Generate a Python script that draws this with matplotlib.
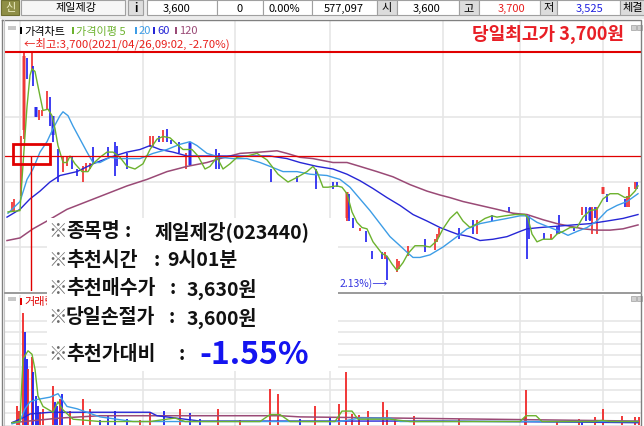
import matplotlib
matplotlib.use("Agg")
import matplotlib.pyplot as plt
from matplotlib.patches import Rectangle

plt.rcParams['font.family'] = ['Noto Sans CJK KR', 'DejaVu Sans']

W, H = 644, 427

# ---- quote bar ----
stock_name = "제일제강"
stock_code = "023440"
last_price = "3,600"
change = "0"
change_rate = "0.00%"
volume_total = "577,097"
open_price = "3,600"
high_price = "3,700"
low_price = "3,525"

# ---- signal box ----
info_labels = ["종목명", "추천시간", "추천매수가", "당일손절가", "추천가대비"]
info_values = [f"{stock_name}({stock_code})", "9시01분", "3,630원", "3,600원", "-1.55%"]
high_label = "당일최고가 3,700원"
high_note = "←최고:3,700(2021/04/26,09:02, -2.70%)"
low_note = "2.13%)⟶"   # only the part not hidden by the box

# ---- price panel (bar slot, price) ----
day_high = 3700
ref_line = 3620
buy_t = 23
price_grid = [3550, 3600, 3650]
time_grid_t = [12, 135, 227, 322, 435, 512, 595]

candle_t = [4, 6, 13, 16, 19, 24, 25, 28, 31, 34, 39, 42, 45, 50, 55, 59, 64, 69, 75, 78,
            82, 85, 100, 107, 109, 119, 142, 145, 151, 155, 159, 163, 171, 178, 182, 208, 211,
            263, 289, 308, 325, 329, 339, 341, 345, 352, 358, 364, 374, 377, 379, 389, 391,
            400, 417, 427, 429, 431, 451, 465, 469, 484, 501, 519, 521, 536, 543, 549, 551,
            566, 574, 578, 582, 584, 587, 589, 595, 599, 617, 619, 621, 627, 629]
candle_hi = [3585, 3587, 3635, 3700, 3695, 3700, 3689, 3658, 3655, 3655, 3670, 3665, 3651, 3625,
             3620, 3620, 3620, 3610, 3612, 3615, 3615, 3627, 3627, 3631, 3628, 3622, 3635, 3635,
             3635, 3640, 3641, 3632, 3631, 3622, 3631, 3625, 3622, 3610, 3605, 3610, 3600, 3600,
             3592, 3591, 3572, 3565, 3562, 3547, 3546, 3546, 3543, 3541, 3539, 3551, 3556, 3556,
             3560, 3565, 3565, 3571, 3571, 3575, 3581, 3575, 3574, 3561, 3560, 3566, 3575, 3565,
             3581, 3581, 3581, 3581, 3581, 3581, 3596, 3591, 3587, 3589, 3596, 3600, 3600]
candle_lo = [3577, 3578, 3589, 3633, 3679, 3685, 3674, 3650, 3648, 3651, 3655, 3643, 3631, 3600,
             3608, 3612, 3610, 3605, 3600, 3608, 3610, 3615, 3620, 3605, 3612, 3610, 3627, 3628,
             3631, 3631, 3631, 3629, 3622, 3610, 3612, 3610, 3610, 3600, 3600, 3595, 3595, 3596,
             3570, 3570, 3565, 3562, 3554, 3541, 3541, 3541, 3525, 3531, 3533, 3543, 3546, 3548,
             3554, 3558, 3556, 3560, 3560, 3570, 3577, 3541, 3556, 3556, 3556, 3560, 3560, 3562,
             3575, 3570, 3570, 3560, 3572, 3560, 3591, 3585, 3581, 3581, 3581, 3595, 3595]
candle_up = [1, 1, 1, 1, 0, 1, 0, 0, 1, 1, 1, 0, 0, 0, 1, 1, 0, 0, 1, 1, 1, 0, 0, 0, 0, 0, 1, 1,
             0, 1, 0, 0, 0, 1, 0, 0, 0, 0, 0, 0, 0, 0, 1, 0, 0, 1, 0, 0, 0, 1, 0, 1, 1, 1, 0, 1,
             1, 1, 0, 0, 1, 0, 0, 0, 0, 0, 1, 0, 0, 0, 1, 0, 0, 1, 0, 1, 1, 0, 0, 1, 1, 1, 0]

body_t = [16, 28, 45, 182, 339, 582, 595]
body_top = [3697, 3658, 3651, 3630, 3592, 3580, 3596]
body_bot = [3640, 3650, 3636, 3613, 3572, 3571, 3591]
body_up = [1, 0, 0, 0, 1, 0, 1]

ma5_t = [0, 12, 14, 19, 22, 24, 27, 32, 35, 40, 44, 47, 50, 55, 59, 62, 67, 74, 80, 85, 92, 99,
         105, 112, 119, 127, 135, 142, 149, 155, 162, 169, 175, 184, 190, 197, 202, 209, 215,
         222, 229, 239, 249, 259, 270, 280, 290, 299, 305, 309, 315, 320, 329, 334, 339, 344,
         349, 354, 359, 365, 374, 379, 384, 389, 395, 400, 407, 415, 422, 429, 435, 442, 449,
         455, 462, 469, 477, 484, 489, 497, 507, 517, 520, 524, 529, 535, 544, 549, 555, 562,
         569, 575, 582, 589, 595, 602, 610, 617, 622, 627, 630]
ma5_p = [3577, 3578, 3602, 3658, 3682, 3687, 3685, 3666, 3655, 3656, 3651, 3641, 3628, 3615,
         3615, 3620, 3614, 3608, 3608, 3614, 3619, 3623, 3623, 3619, 3612, 3610, 3614, 3625,
         3633, 3635, 3634, 3629, 3625, 3625, 3620, 3610, 3612, 3619, 3610, 3614, 3619, 3620,
         3622, 3617, 3606, 3600, 3604, 3608, 3612, 3608, 3596, 3596, 3597, 3596, 3591, 3577,
         3569, 3565, 3564, 3554, 3545, 3543, 3537, 3532, 3538, 3545, 3551, 3551, 3550, 3555,
         3564, 3572, 3577, 3570, 3565, 3568, 3572, 3574, 3573, 3574, 3575, 3575, 3572, 3560,
         3554, 3556, 3556, 3560, 3562, 3565, 3565, 3573, 3578, 3579, 3587, 3591, 3591, 3588,
         3589, 3593, 3597]

ma20_t = [0, 12, 19, 25, 32, 39, 45, 52, 55, 60, 65, 72, 79, 85, 92, 102, 112, 132, 145, 159,
          172, 182, 189, 199, 212, 225, 239, 252, 262, 275, 289, 302, 319, 332, 342, 352, 362,
          372, 382, 392, 399, 405, 412, 422, 435, 449, 459, 472, 485, 499, 512, 519, 529, 542,
          552, 560, 569, 579, 589, 599, 609, 619, 630]
ma20_p = [3576, 3585, 3602, 3610, 3623, 3631, 3641, 3651, 3654, 3651, 3643, 3633, 3623, 3615,
          3615, 3619, 3618, 3618, 3622, 3625, 3629, 3631, 3628, 3622, 3619, 3618, 3618, 3615,
          3612, 3608, 3608, 3606, 3605, 3602, 3596, 3587, 3578, 3568, 3558, 3551, 3546, 3542,
          3542, 3544, 3550, 3558, 3564, 3568, 3570, 3572, 3574, 3574, 3569, 3565, 3562, 3559,
          3562, 3565, 3570, 3578, 3582, 3585, 3591]

ma60_t = [-1, 12, 22, 32, 42, 52, 69, 85, 102, 119, 132, 142, 152, 165, 179, 199, 219, 245, 262,
          279, 292, 309, 325, 339, 352, 365, 379, 392, 405, 419, 432, 442, 449, 462, 472, 485,
          499, 512, 519, 532, 549, 565, 582, 599, 615, 630]
ma60_p = [3573, 3579, 3587, 3593, 3600, 3605, 3608, 3614, 3619, 3623, 3625, 3628, 3625, 3623,
          3620, 3620, 3620, 3620, 3620, 3618, 3615, 3612, 3610, 3606, 3601, 3595, 3588, 3582,
          3575, 3570, 3565, 3562, 3560, 3558, 3555, 3556, 3558, 3562, 3564, 3565, 3566, 3567,
          3568, 3570, 3572, 3575]

ma120_t = [-1, 12, 25, 39, 59, 79, 99, 119, 139, 159, 179, 199, 212, 232, 252, 269, 279, 292,
           305, 325, 339, 352, 369, 385, 402, 419, 432, 442, 455, 472, 489, 505, 519, 535, 549,
           562, 575, 589, 602, 615, 630]
ma120_p = [3555, 3557, 3564, 3570, 3579, 3585, 3591, 3597, 3602, 3608, 3612, 3615, 3618, 3622,
           3623, 3624, 3622, 3619, 3618, 3615, 3615, 3612, 3608, 3604, 3598, 3593, 3590, 3588,
           3585, 3582, 3579, 3576, 3575, 3571, 3568, 3566, 3564, 3563, 3563, 3564, 3567]

# ---- volume panel (bar slot, thousand shares) ----
vol_t = [9, 11, 15, 17, 19, 20, 24, 25, 28, 30, 32, 35, 45, 47, 49, 52, 54, 62, 75, 82, 92,
         100, 107, 119, 132, 142, 156, 172, 182, 192, 210, 232, 262, 270, 292, 307, 322, 331,
         338, 344, 351, 360, 375, 379, 387, 406, 451, 517, 518, 549, 571, 574, 587, 595, 614,
         627, 631]
vol_k = [16, 12, 97, 80, 57, 48, 59, 46, 25, 16, 11, 14, 34, 20, 16, 22, 27, 12, 22, 14, 4, 8,
         12, 5, 4, 10, 12, 14, 10, 5, 14, 4, 31, 27, 5, 16, 6, 18, 46, 9.5, 8.6, 12, 20, 13, 5,
         8, 5, 7, 30, 3.5, 5, 3.5, 7, 14, 8, 7, 7]
vol_up = [1, 1, 1, 0, 0, 1, 1, 0, 0, 0, 1, 1, 1, 0, 0, 1, 0, 1, 1, 1, 0, 0, 0, 0, 1, 1, 0, 1,
          0, 0, 1, 1, 1, 1, 0, 1, 0, 1, 1, 1, 1, 1, 1, 1, 1, 1, 1, 1, 1, 1, 1, 0, 1, 1, 1, 1, 1]

vma5_t = [4, 12, 15, 20, 24, 27, 30, 35, 45, 50, 55, 65, 92, 142, 167, 177, 252, 262, 272, 282,
          327, 334, 344, 350, 372, 382, 402, 512, 518, 528, 534, 587, 594, 602, 630]
vma5_k = [2, 3, 57, 64, 61, 48, 25, 16, 11, 20, 13, 5, 3, 3, 6, 3, 3, 9, 9, 3, 3, 12, 12, 5, 5,
          5, 3, 3, 8, 8, 3, 3, 4, 3, 3]
vma20_t = [4, 12, 17, 22, 29, 42, 50, 59, 69, 92, 125, 192, 332, 352, 382, 392, 630]
vma20_k = [1, 3, 14, 20, 22, 24, 27, 16, 14, 7, 3, 3, 3, 6, 6, 3, 3]
vma60_t = [4, 17, 22, 42, 92, 142, 149, 192, 332, 436, 630]
vma60_k = [2, 7, 9.5, 11, 11, 11, 8, 3.4, 3.4, 3.4, 2]
vma120_t = [4, 52, 92, 272, 292, 630]
vma120_k = [2, 6, 8, 8, 7, 3.4]

C_UP, C_DN = '#f02828', '#1c1cf0'
C_UPB, C_DNB = '#f08a8a', '#7878f0'
C_MA5, C_MA20, C_MA60, C_MA120 = '#6cb22e', '#3d9de6', '#2626d6', '#9a4a76'
C_RED = '#e00000'
GRID = '#e6e6e6'


def box(x0, y0, x1, y1):
    return [x0 / W, 1 - y1 / H, (x1 - x0) / W, (y1 - y0) / H]


fig = plt.figure(figsize=(W / 100, H / 100), dpi=100)

# ---------------- price chart ----------------
pa = fig.add_axes(box(5, 22, 641, 292))
pa.set_xlim(-3, 633)
pa.set_ylim(3516.2, 3723.8)
pa.axis('off')
for p in price_grid:
    pa.axhline(p, color=GRID, lw=1.2, zorder=0)
for t in time_grid_t:
    pa.axvline(t, color=GRID, lw=1.2, zorder=0)

pa.vlines(body_t, body_bot, body_top, colors=[C_UPB if u else C_DNB for u in body_up], lw=2.6, zorder=2)
pa.vlines(candle_t, candle_lo, candle_hi, colors=[C_UP if u else C_DN for u in candle_up], lw=1.2, zorder=3)

pa.plot(ma120_t, ma120_p, color=C_MA120, lw=1.1, zorder=4)
pa.plot(ma60_t, ma60_p, color=C_MA60, lw=1.0, zorder=4)
pa.plot(ma20_t, ma20_p, color=C_MA20, lw=1.0, zorder=4)
pa.plot(ma5_t, ma5_p, color=C_MA5, lw=1.0, zorder=4)

pa.axhline(day_high, color=C_RED, lw=1.5, zorder=5)
pa.axhline(ref_line, color=C_RED, lw=0.9, zorder=5)
pa.vlines(buy_t, 3516.2, ref_line, color=C_RED, lw=1.0, zorder=5)
pa.add_patch(Rectangle((buy_t - 18.5, ref_line - 6.2), 37, 15.4, fill=False, ec=C_RED, lw=2, zorder=6))

pa.text(16, 3707, high_note, ha='left', va='center', fontsize=8.2, color='#e8201c', zorder=6)
pa.text(380, 3522.5, low_note, ha='right', va='center', fontsize=7.5, color='#3535e0', zorder=6)

# ---------------- volume chart ----------------
va = fig.add_axes(box(5, 296, 641, 427))
va.set_xlim(-3, 633)
va.set_ylim(-0.86, 112.1)
va.axis('off')
for k in range(10, 100, 10):
    va.axhline(k, color=GRID, lw=1.2, zorder=0)
for t in time_grid_t:
    va.axvline(t, color=GRID, lw=1.2, zorder=0)
va.vlines(vol_t, 0, vol_k, colors=[C_UP if u else C_DN for u in vol_up], lw=1.3, zorder=2)
va.plot(vma120_t, vma120_k, color=C_MA120, lw=1.1, zorder=3)
va.plot(vma60_t, vma60_k, color=C_MA60, lw=1.0, zorder=3)
va.plot(vma20_t, vma20_k, color=C_MA20, lw=1.0, zorder=3)
va.plot(vma5_t, vma5_k, color=C_MA5, lw=1.0, zorder=3)

# ---------------- window chrome / overlay ----------------
ov = fig.add_axes([0, 0, 1, 1], zorder=10)
ov.set_xlim(0, W)
ov.set_ylim(H, 0)
ov.axis('off')

ov.add_patch(Rectangle((0, 0), W, 20, fc='#ececec', ec='none'))


def cell(x0, x1, fc, ec='#a0a0a0'):
    ov.add_patch(Rectangle((x0, 1), x1 - x0, 15, fc=fc, ec=ec, lw=0.8))


def ctext(x, s, color='black', ha='center', **kw):
    ov.text(x, 8.5, s, ha=ha, va='center', fontsize=8, color=color, **kw)


cell(1, 19, '#8e8e46', '#6e6e30'); ctext(10, "신", color='#f2f2c8')
cell(21, 125, '#f6f6f6'); ctext(76, stock_name)
cell(128, 143, '#dedede'); ctext(135.5, "i", fontweight='bold')
cell(147, 217, 'white'); ctext(177, last_price)
cell(217, 263, 'white'); ctext(240, change)
cell(263, 312, 'white'); ctext(300, change_rate, ha='right')
cell(312, 377, 'white'); ctext(344, volume_total)
cell(377, 397, '#dcdcdc'); ctext(387, "시")
cell(397, 459, 'white'); ctext(427, open_price)
cell(459, 479, '#dcdcdc'); ctext(469, "고")
cell(479, 540, 'white'); ctext(511, high_price, color='#e82020')
cell(540, 557, '#dcdcdc'); ctext(548.5, "저")
cell(557, 620, 'white'); ctext(590, low_price, color='#2020e0')
cell(620, 646, '#dcdcdc'); ctext(623, "체결", ha='left')

# panel frame
ov.plot([2, 641.5, 641.5, 2, 2], [20.5, 20.5, 427, 427, 20.5], color='#808080', lw=1)
ov.plot([4.5, 4.5], [21, 427], color='#c4c4c4', lw=0.8)
ov.plot([5, 641], [293.5, 293.5], color='#9a9a9a', lw=1.4)

# legend row
ov.add_patch(Rectangle((8, 27), 8, 4, fc='#c8c8c8', ec='none'))
for x, c, s in [(20, 'black', "가격차트"), (72, C_MA5, "가격이평 5"), (135, C_MA20, "20"),
                (153, C_MA60, "60"), (175, C_MA120, "120")]:
    ov.add_patch(Rectangle((x, 28), 2, 7, fc=c, ec='none'))
    ov.text(x + 4, 31.5, s, ha='left', va='center', fontsize=8, color=c)
for x in (631, 637):
    ov.add_patch(Rectangle((x, 26), 5, 5, fc='#d0d0d0', ec='#a0a0a0', lw=0.5))
    ov.add_patch(Rectangle((x, 297), 5, 5, fc='#d0d0d0', ec='#a0a0a0', lw=0.5))

ov.text(624, 34, high_label, ha='right', va='center', fontsize=13, fontweight='bold', color='#e81e25')

# volume legend (partly hidden by the box, as in the screenshot)
ov.add_patch(Rectangle((8, 298), 8, 4, fc='#c8c8c8', ec='none'))
ov.add_patch(Rectangle((20, 299), 2, 7, fc=C_RED, ec='none'))
ov.text(24, 302.5, "거래량", ha='left', va='center', fontsize=8, color=C_RED, zorder=2)

# recommendation box
ov.add_patch(Rectangle((47, 219), 291, 153, fc='white', ec='none', zorder=4))
row_y = [232, 261, 289, 318, 355]
colon_x = [128, 157, 173, 172, 182]
value_x = [155, 167, 187, 187, 199]
for i, (lab, val) in enumerate(zip(info_labels, info_values)):
    y = row_y[i]
    ov.text(48, y, "※", ha='left', va='center', fontsize=13.5, color='#6a6a6a', zorder=5)
    ov.text(66, y, lab, ha='left', va='center', fontsize=14, fontweight='bold', color='#111111', zorder=5)
    ov.text(colon_x[i], y, ":", ha='center', va='center', fontsize=14, fontweight='bold', color='#111111', zorder=5)
    if i == len(info_labels) - 1:
        ov.text(value_x[i], y, val, ha='left', va='center', fontsize=23, fontweight='bold', color='#1414f0', zorder=5)
    else:
        ov.text(value_x[i], y, val, ha='left', va='center', fontsize=14, fontweight='bold', color='#111111', zorder=5)

fig.savefig("out.png", dpi=100, facecolor='white')
